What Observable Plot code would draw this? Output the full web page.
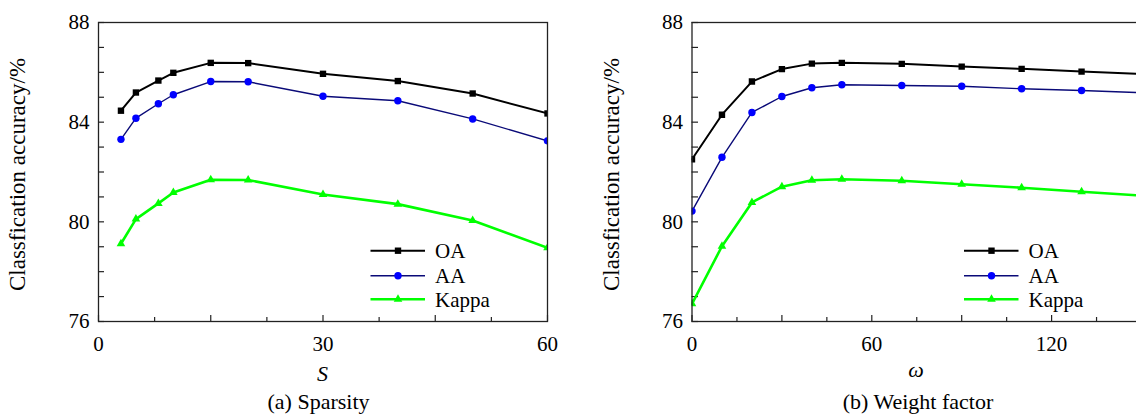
<!DOCTYPE html>
<html><head><meta charset="utf-8">
<script src="https://cdn.jsdelivr.net/npm/d3@7"></script>
<script src="https://cdn.jsdelivr.net/npm/@observablehq/plot@0.6"></script>
<style>
html,body{margin:0;padding:0;background:#fff;overflow:hidden;}
#wrap{position:relative;width:1136px;height:416px;overflow:hidden;background:#fff;}
.panel{position:absolute;top:0;}
.panel svg{max-width:none !important;}
</style></head><body><div id="wrap"></div>
<script>
// ---- data ----
const seriesNames = ["OA", "AA", "Kappa"];
const yTicks = [76, 80, 84, 88];
const yTitle = "Classfication accuracy/%";

const sparsity = [3, 5, 8, 10, 15, 20, 30, 40, 50, 60];
const sOA    = [84.46, 85.19, 85.67, 85.98, 86.38, 86.37, 85.94, 85.65, 85.15, 84.35];
const sAA    = [83.31, 84.16, 84.74, 85.10, 85.63, 85.62, 85.04, 84.86, 84.13, 83.25];
const sKappa = [79.12, 80.11, 80.74, 81.18, 81.69, 81.68, 81.10, 80.71, 80.05, 78.96];
const sTickLabels = [0, 30, 60];

const omega  = [0, 10, 20, 30, 40, 50, 70, 90, 110, 130, 150];
const wOA    = [82.51, 84.30, 85.63, 86.13, 86.35, 86.38, 86.34, 86.23, 86.14, 86.03, 85.93];
const wAA    = [80.43, 82.59, 84.39, 85.03, 85.38, 85.50, 85.47, 85.44, 85.34, 85.27, 85.18];
const wKappa = [76.71, 79.02, 80.78, 81.41, 81.67, 81.71, 81.65, 81.51, 81.37, 81.21, 81.05];
const wTickLabels = [0, 60, 120];

// ---- styles ----
const styles = {
  OA:    {line: "#000000", lw: 2,   fill: "#000000", symbol: "square",   r: 3.6},
  AA:    {line: "#0a0a78", lw: 1.4, fill: "#0000ff", symbol: "circle",   r: 3.7},
  Kappa: {line: "#00ff00", lw: 2.6, fill: "#00ff00", symbol: "triangle", r: 3.2}
};
const FONT = '"Liberation Serif", "Times New Roman", serif';
const H = 416, MT = 22, PLOT_H = 299, PLOT_W = 449;

function rows(xs, ys, name) { return xs.map((x, i) => ({x, y: ys[i], name})); }

function makePanel(o) {
  const marginBottom = H - MT - PLOT_H;
  const data = {
    OA: rows(o.xs, o.vals[0], "OA"),
    AA: rows(o.xs, o.vals[1], "AA"),
    Kappa: rows(o.xs, o.vals[2], "Kappa")
  };
  const allTicks = d3.range(o.xDomain[0], o.xDomain[1] + 1e-9, o.minorStep);
  const isMajor = v => Math.abs(v / o.majorStep - Math.round(v / o.majorStep)) < 1e-6;
  const marks = [
    Plot.tickY(d3.range(76, 89), {y: d => d, stroke: "#222", strokeWidth: 1.2, insetRight: PLOT_W - 6}),
    Plot.tickX(allTicks.filter(isMajor), {x: d => d, stroke: "#222", strokeWidth: 1.2, insetTop: PLOT_H - 6}),
    Plot.tickX(allTicks.filter(v => !isMajor(v)), {x: d => d, stroke: "#222", strokeWidth: 1.2, insetTop: PLOT_H - 4}),
    Plot.axisX({ticks: o.tickLabels, tickSize: 0, tickPadding: 15, label: null, tickFormat: d => String(d)}),
    Plot.axisY({ticks: yTicks, tickSize: 0, tickPadding: 9, label: null, tickFormat: d => String(d)}),
  ];
  for (const n of seriesNames) {
    const s = styles[n];
    marks.push(Plot.line(data[n], {x: "x", y: "y", stroke: s.line, strokeWidth: s.lw, clip: "frame"}));
  }
  for (const n of seriesNames) {
    const s = styles[n];
    marks.push(Plot.dot(data[n], {x: "x", y: "y", fill: s.fill, symbol: s.symbol, r: s.r, clip: "frame"}));
  }
  marks.push(Plot.frame({stroke: "#222", strokeWidth: 1.3}));

  const svg = Plot.plot({
    width: o.width, height: H,
    marginTop: MT, marginBottom, marginLeft: o.marginLeft, marginRight: o.marginRight,
    x: {domain: o.xDomain},
    y: {domain: [76, 88]},
    style: {fontFamily: FONT, fontSize: "21px", color: "#000", background: "transparent", overflow: "visible", maxWidth: "none"},
    marks
  });
  svg.style.maxWidth = "none";
  svg.setAttribute("width", o.width);

  const sel = d3.select(svg);
  const cx = o.marginLeft + PLOT_W / 2;
  // y title
  sel.append("text").attr("transform", `translate(${o.marginLeft - 73},${MT + PLOT_H / 2 + 3}) rotate(-90)`)
    .attr("text-anchor", "middle").style("font-family", FONT).style("font-size", "23px").attr("fill", "#000").text(yTitle);
  // x title
  sel.append("text").attr("x", cx).attr("y", o.xTitleBaseline).attr("text-anchor", "middle")
    .style("font-family", FONT).style("font-size", "22px").style("font-style", "italic").attr("fill", "#000").text(o.xTitle);
  // caption
  sel.append("text").attr("x", cx + o.captionDx).attr("y", 409).attr("text-anchor", "middle")
    .style("font-family", FONT).style("font-size", "22px").attr("fill", "#000").text(o.caption);
  // legend
  const lg = sel.append("g").attr("transform", `translate(${o.marginLeft},0)`);
  const rowY = [250.7, 275.7, 299.3];
  seriesNames.forEach((n, i) => {
    const s = styles[n];
    lg.append("line").attr("x1", 272.5).attr("x2", 327).attr("y1", rowY[i]).attr("y2", rowY[i])
      .attr("stroke", s.line).attr("stroke-width", s.lw);
    const sym = {square: d3.symbolSquare, circle: d3.symbolCircle, triangle: d3.symbolTriangle}[s.symbol];
    lg.append("path").attr("transform", `translate(300,${rowY[i]})`)
      .attr("d", d3.symbol(sym, Math.PI * s.r * s.r)()).attr("fill", s.fill);
    lg.append("text").attr("x", 337).attr("y", rowY[i] + 7.5).attr("text-anchor", "start")
      .style("font-family", FONT).style("font-size", "21px").attr("fill", "#000").text(n);
  });

  const div = document.createElement("div");
  div.className = "panel";
  div.style.left = o.left + "px";
  div.style.width = o.width + "px";
  div.appendChild(svg);
  document.getElementById("wrap").appendChild(div);
}

makePanel({
  xs: sparsity, vals: [sOA, sAA, sKappa], xDomain: [0, 60], minorStep: 7.5, majorStep: 15,
  tickLabels: sTickLabels, width: 568, marginLeft: 98, marginRight: 21, left: 0,
  xTitle: "S", xTitleBaseline: 381, caption: "(a) Sparsity", captionDx: -4
});
makePanel({
  xs: omega, vals: [wOA, wAA, wKappa], xDomain: [0, 150], minorStep: 15, majorStep: 30,
  tickLabels: wTickLabels, width: 593, marginLeft: 123.5, marginRight: 20, left: 568,
  xTitle: "ω", xTitleBaseline: 377, caption: "(b) Weight factor", captionDx: 2
});
</script></body></html>
